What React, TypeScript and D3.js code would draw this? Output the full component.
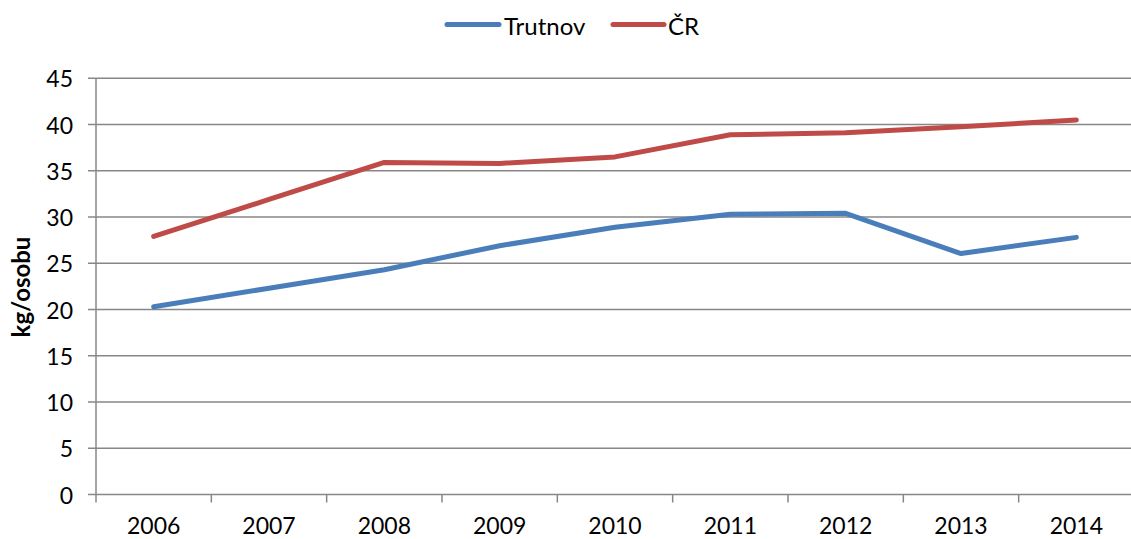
import { useMemo } from 'react';
import * as d3 from 'd3';

const years = ['2006', '2007', '2008', '2009', '2010', '2011', '2012', '2013', '2014'];
const trutnov = [20.3, 22.3, 24.3, 26.9, 28.9, 30.3, 30.4, 26.05, 27.8];
const cr = [27.9, 31.9, 35.9, 35.8, 36.5, 38.9, 39.1, 39.75, 40.5];
const yTicks = [0, 5, 10, 15, 20, 25, 30, 35, 40, 45];

const W = 1131;
const H = 539;
const FONT = 'Lato, "Open Sans", sans-serif';
const BLUE = '#4a7ebb';
const RED = '#be4b48';
const GRID = '#878787';

export default function App() {
  const x = useMemo(() => d3.scaleBand<string>().domain(years).range([96, 1134]), []);
  const y = useMemo(() => d3.scaleLinear().domain([0, 45]).range([494.5, 78.3]), []);

  const line = d3
    .line<number>()
    .x((_, i) => (x(years[i]) ?? 0) + x.bandwidth() / 2)
    .y((v) => y(v));

  const series = [
    { name: 'Trutnov', values: trutnov, color: BLUE },
    { name: 'ČR', values: cr, color: RED },
  ];

  return (
    <svg
      width={W}
      height={H}
      viewBox={`0 0 ${W} ${H}`}
      style={{ position: 'absolute', left: 0, top: 0, background: '#fff' }}
    >
      {/* grid + y ticks */}
      {yTicks.map((t) => (
        <g key={t}>
          <line x1={88} x2={W} y1={y(t)} y2={y(t)} stroke={GRID} strokeWidth={1.5} />
          <text
            x={73}
            y={y(t)}
            textAnchor="end"
            dominantBaseline="central"
            fontFamily={FONT}
            fontSize={23}
            fill="#000"
          >
            {t}
          </text>
        </g>
      ))}

      {/* y axis line */}
      <line x1={96} x2={96} y1={y(45)} y2={y(0)} stroke={GRID} strokeWidth={1.5} />

      {/* x ticks: band boundaries */}
      {years.map((yr) => (
        <line
          key={'t' + yr}
          x1={x(yr) ?? 0}
          x2={x(yr) ?? 0}
          y1={y(0)}
          y2={y(0) + 8}
          stroke={GRID}
          strokeWidth={1.5}
        />
      ))}
      {years.map((yr) => (
        <text
          key={'l' + yr}
          x={(x(yr) ?? 0) + x.bandwidth() / 2}
          y={525}
          textAnchor="middle"
          dominantBaseline="central"
          fontFamily={FONT}
          fontSize={23}
          fill="#000"
        >
          {yr}
        </text>
      ))}

      {/* axis title */}
      <text
        transform="translate(20,287) rotate(-90)"
        textAnchor="middle"
        dominantBaseline="central"
        fontFamily={FONT}
        fontWeight="bold"
        fontSize={24}
        fill="#000"
      >
        kg/osobu
      </text>

      {/* series */}
      {series.map((s) => (
        <path
          key={s.name}
          d={line(s.values) ?? ''}
          fill="none"
          stroke={s.color}
          strokeWidth={5}
          strokeLinejoin="round"
          strokeLinecap="round"
        />
      ))}

      {/* legend */}
      <g fontFamily={FONT} fontSize={24} fill="#000">
        <line x1={447} x2={499} y1={24.5} y2={24.5} stroke={BLUE} strokeWidth={5} strokeLinecap="round" />
        <text x={504} y={25} dominantBaseline="central">Trutnov</text>
        <line x1={613} x2={664} y1={24.5} y2={24.5} stroke={RED} strokeWidth={5} strokeLinecap="round" />
        <text x={668} y={25} dominantBaseline="central">ČR</text>
      </g>
    </svg>
  );
}
